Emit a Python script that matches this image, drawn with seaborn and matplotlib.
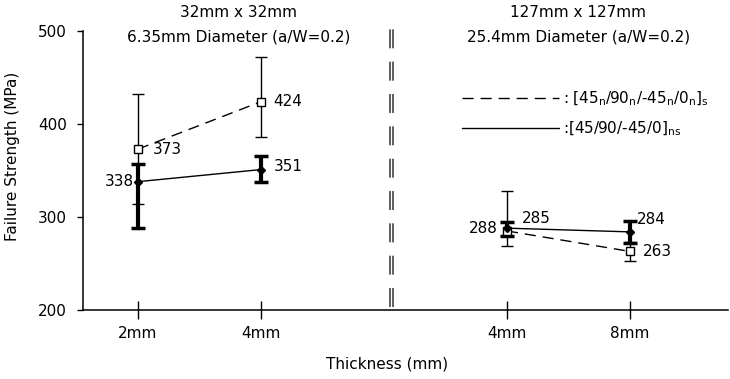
import matplotlib
matplotlib.use("Agg")
import matplotlib.pyplot as plt
import matplotlib.transforms as mtransforms
from matplotlib.lines import Line2D
import numpy as np
import pandas as pd
import seaborn as sns

# ---------------- data ----------------
thickness_labels = ["2mm", "4mm", "4mm", "8mm"]
panel_of_point = [0, 0, 1, 1]          # specimen-size group
index_in_panel = [0, 1, 0, 1]
dashed_mean = [373, 424, 285, 263]
dashed_low = [314, 386, 269, 253]
dashed_high = [432, 472, 328, 273]
solid_mean = [338, 351, 288, 284]
solid_low = [288, 338, 280, 272]
solid_high = [357, 366, 295, 296]
series_names = [
    r": [45$_\mathregular{n}$/90$_\mathregular{n}$/-45$_\mathregular{n}$/0$_\mathregular{n}$]$_\mathregular{s}$",
    r":[45/90/-45/0]$_\mathregular{ns}$",
]
panel_title_1 = ["32mm x 32mm", "127mm x 127mm"]
panel_title_2 = ["6.35mm Diameter (a/W=0.2)", "25.4mm Diameter (a/W=0.2)"]
y_ticks = [200, 300, 400, 500]
x_title = "Thickness (mm)"
y_title = "Failure Strength (MPa)"

# ---------------- layout ----------------
sns.set_style("ticks")
plt.rcParams["font.family"] = ["DejaVu Sans"]
plt.rcParams["text.color"] = "black"
plt.rcParams["axes.labelcolor"] = "black"
FS = 11

pos = np.array(panel_of_point) * 3 + np.array(index_in_panel)
break_pos = 2

df = pd.DataFrame({
    "x": np.concatenate([pos, pos]),
    "y": dashed_mean + solid_mean,
    "series": [series_names[0]] * 4 + [series_names[1]] * 4,
    "grp": [f"d{p}" for p in panel_of_point] + [f"s{p}" for p in panel_of_point],
})

fig = plt.figure(figsize=(7.3, 3.79), dpi=100)
ax = fig.add_axes([83 / 730, 69 / 379, 645 / 730, 279 / 379])

sns.lineplot(data=df, x="x", y="y", style="series", units="grp",
             estimator=None, color="black", linewidth=1.0,
             dashes={series_names[0]: (8, 5), series_names[1]: ""},
             legend=False, ax=ax)

dm = np.array(dashed_mean)
sm = np.array(solid_mean)
# thin error bars (dashed series)
ax.errorbar(pos, dm, yerr=[dm - np.array(dashed_low), np.array(dashed_high) - dm],
            fmt="none", ecolor="black", elinewidth=1.0, capsize=4, capthick=1.0, zorder=3)
# thick error bars (solid series)
ax.errorbar(pos, sm, yerr=[sm - np.array(solid_low), np.array(solid_high) - sm],
            fmt="none", ecolor="black", elinewidth=3.0, capsize=5, capthick=2.5, zorder=4)
ax.plot(pos, dm, ls="none", marker="s", ms=6, mfc="white", mec="black", mew=1.0, zorder=5)
ax.plot(pos, sm, ls="none", marker="D", ms=4.5, mfc="black", mec="black", zorder=6)

# value labels (offsets in points)
dashed_off = [(11, 0, "left"), (9, 0, "left"), (11, 9, "left"), (9, 0, "left")]
solid_off = [(-3, 0, "right"), (9, 2, "left"), (-7, 0, "right"), (5, 9, "left")]
for x, v, (dx, dy, ha) in zip(pos, dashed_mean, dashed_off):
    ax.annotate(str(v), (x, v), xytext=(dx, dy), textcoords="offset points",
                ha=ha, va="center", fontsize=FS)
for x, v, (dx, dy, ha) in zip(pos, solid_mean, solid_off):
    ax.annotate(str(v), (x, v), xytext=(dx, dy), textcoords="offset points",
                ha=ha, va="center", fontsize=FS)

# axes
ax.set_xlim(-0.447, 4.797)
ax.set_ylim(200, 500)
ax.set_yticks(y_ticks)
ax.set_xticks(pos)
ax.set_xticklabels(thickness_labels)
ax.tick_params(axis="x", direction="inout", length=13, width=1, pad=5, labelsize=FS,
               colors="black")
ax.tick_params(axis="y", direction="out", length=4.5, width=1, pad=7, labelsize=FS,
               colors="black")
sns.despine(ax=ax)
for s in ("left", "bottom"):
    ax.spines[s].set_color("black")
    ax.spines[s].set_linewidth(1.1)
ax.set_xlabel(x_title, fontsize=FS)
ax.set_ylabel(y_title, fontsize=FS)
ax.xaxis.set_label_coords(0.471, -0.165)
ax.yaxis.set_label_coords(-0.097, 0.55)

# panel titles
trans = mtransforms.blended_transform_factory(ax.transData, ax.transAxes)
title_x = [0.82, 3.58]
for tx, t1, t2 in zip(title_x, panel_title_1, panel_title_2):
    ax.text(tx, 1.068, t1, transform=trans, ha="center", va="center", fontsize=FS, clip_on=False)
    ax.text(tx, 0.978, t2, transform=trans, ha="center", va="center", fontsize=FS, clip_on=False)

# axis break marks
for dx in (0.046, 0.076):
    ax.axvline(break_pos + dx, ymin=0.011, ymax=1.007, color="#444444", lw=1.2,
               dashes=(11.4, 8.0), clip_on=False)

# legend
handles = [Line2D([], [], color="black", lw=1.0, dashes=(8, 5)),
           Line2D([], [], color="black", lw=1.0)]
ax.legend(handles, series_names, loc="upper left", bbox_to_anchor=(0.588, 0.79),
          frameon=False, handlelength=6.3, handletextpad=0.3, labelspacing=0.75,
          borderpad=0, borderaxespad=0, fontsize=FS)

fig.savefig("out.png", dpi=100, facecolor="white")
